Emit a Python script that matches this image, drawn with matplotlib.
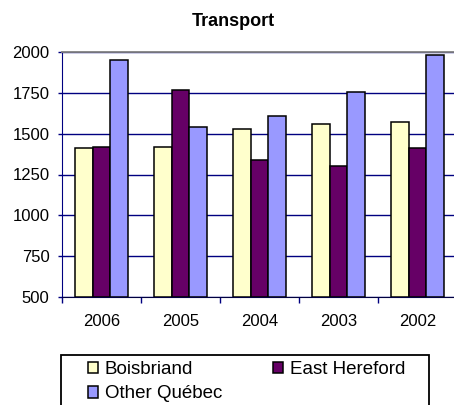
import matplotlib.pyplot as plt
import numpy as np
from matplotlib.patches import Patch, Rectangle

years = ['2006', '2005', '2004', '2003', '2002']
boisbriand = [1410, 1420, 1530, 1560, 1570]
east_hereford = [1420, 1765, 1340, 1305, 1410]
other_quebec = [1950, 1540, 1610, 1755, 1980]

names = ['Boisbriand', 'East Hereford', 'Other Québec']
colors = ['#FFFFCC', '#660066', '#9999FF']

plt.rcParams['font.family'] = ['Liberation Sans', 'DejaVu Sans']

W, H = 454, 405
fig = plt.figure(figsize=(W / 100, H / 100), dpi=100)
ax = fig.add_axes([62 / W, 1 - 297 / H, (457 - 62) / W, (297 - 52) / H])

x = np.arange(len(years))
w = 0.224
for i, (vals, c) in enumerate(zip([boisbriand, east_hereford, other_quebec], colors)):
    ax.bar(x + (i - 1) * w, np.array(vals) - 500, bottom=500, width=w,
           color=c, edgecolor='black', linewidth=1.1, zorder=3)

ax.set_ylim(500, 2000)
ax.set_xlim(-0.5, 4.5)
ax.set_yticks(np.arange(500, 2001, 250))
ax.yaxis.grid(True, color='#000080', linewidth=1.0, zorder=0)
ax.set_xticks(x)
ax.set_xticklabels(years)
ax.set_xticks(np.arange(-0.5, 4.6, 1), minor=True)
ax.tick_params(axis='x', which='major', length=0, pad=12, labelsize=12)
ax.tick_params(axis='x', which='minor', length=4, width=1, color='#000080', direction='out')
ax.tick_params(axis='y', length=3, width=1, color='#000080', pad=6, labelsize=12)

ax.spines['right'].set_visible(False)
ax.spines['top'].set_color('#808080')
ax.spines['top'].set_linewidth(1.3)
ax.spines['left'].set_color('#000080')
ax.spines['bottom'].set_color('#000040')

fig.text(233.5 / W, 1 - 21 / H, 'Transport', ha='center', va='center',
         fontsize=13, fontweight='bold')

# legend frame, runs off the bottom of the picture
fig.patches.append(Rectangle((61 / W, -0.05), (429 - 61) / W, 1 - 355 / H + 0.05,
                             transform=fig.transFigure, facecolor='white',
                             edgecolor='black', linewidth=1.3, zorder=1))

# column-major order so rows read Boisbriand, East Hereford / Other Québec
order = [0, 2, 1]
handles = [Patch(facecolor=colors[k], edgecolor='black', linewidth=1.1) for k in order]
labels = [names[k] for k in order]
leg = fig.legend(handles, labels, loc='upper left', ncol=2,
                 bbox_to_anchor=(88 / W, 1 - 361 / H),
                 borderaxespad=0, borderpad=0, fontsize=13.5,
                 handlelength=0.55, handleheight=0.55, handletextpad=0.35,
                 labelspacing=0.4, columnspacing=2.7, frameon=False)
leg.set_zorder(2)

fig.savefig('out.png', dpi=100)
